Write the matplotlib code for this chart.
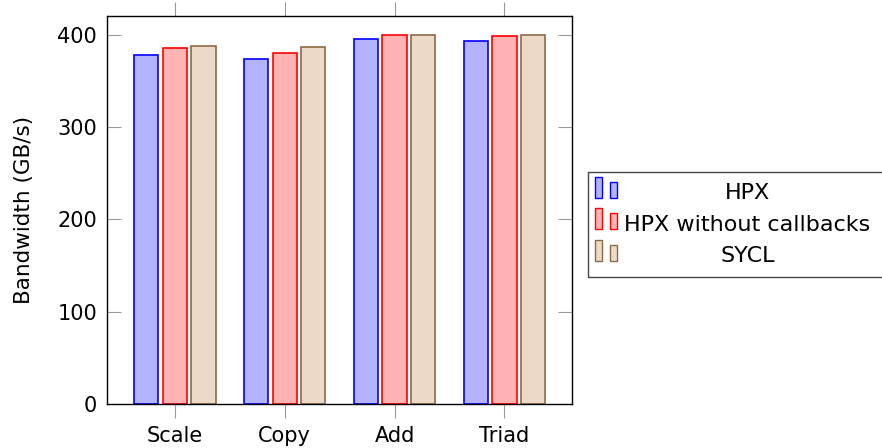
import matplotlib.pyplot as plt
import matplotlib.patches as mpatches
import numpy as np

categories = ['Scale', 'Copy', 'Add', 'Triad']
series = ['HPX', 'HPX without callbacks', 'SYCL']
hpx = [378, 374, 395, 393]
hpx_nocb = [385, 380, 400, 398]
sycl = [388, 387, 400, 399]
yticks = [0, 100, 200, 300, 400]

faces = ['#b3b3ff', '#ffb3b3', '#ecd9c6']
edges = ['#0000ff', '#ff0000', '#8c6a48']

plt.rcParams['font.family'] = ['DejaVu Sans']
fig = plt.figure(figsize=(8.82, 4.48), dpi=100)
ax = fig.add_axes([0.121, 0.0982, 0.528, 0.867])

x = np.arange(len(categories))
width = 0.22
step = 0.262
for i, vals in enumerate([hpx, hpx_nocb, sycl]):
    ax.bar(x + (i - 1) * step, vals, width, color=faces[i],
           edgecolor=edges[i], linewidth=1.2)

ax.set_xlim(-0.618, 3.618)
ax.set_ylim(0, 420.5)
ax.set_xticks(x)
ax.set_xticklabels(categories)
ax.set_yticks(yticks)
ax.tick_params(axis='x', direction='out', length=10, color='#999999',
               top=True, labelsize=15, pad=6)
ax.tick_params(axis='y', direction='in', length=10, color='#999999',
               right=True, labelsize=15, pad=7)
ax.set_ylabel('Bandwidth (GB/s)', fontsize=15.5, labelpad=17)
for s in ax.spines.values():
    s.set_linewidth(1)

# legend drawn by hand, pgfplots style
W, H = 882, 448
fig.patches.append(mpatches.Rectangle((587.7 / W, 1 - 276.7 / H), 320 / W,
                                      104.7 / H, transform=fig.transFigure,
                                      fill=False, edgecolor='#444444',
                                      linewidth=1))
for i, name in enumerate(series):
    yc = 192 + i * 31.5
    fig.patches.append(mpatches.Rectangle((595 / W, 1 - (yc + 6) / H), 7 / W,
                                          21 / H, transform=fig.transFigure,
                                          facecolor=faces[i], edgecolor=edges[i],
                                          linewidth=1))
    fig.patches.append(mpatches.Rectangle((610 / W, 1 - (yc + 6) / H), 7 / W,
                                          16 / H, transform=fig.transFigure,
                                          facecolor=faces[i], edgecolor=edges[i],
                                          linewidth=1))
    fig.text(747.5 / W, 1 - (yc + 1) / H, name, ha='center', va='center',
             fontsize=16)

fig.savefig('out.png', dpi=100)
